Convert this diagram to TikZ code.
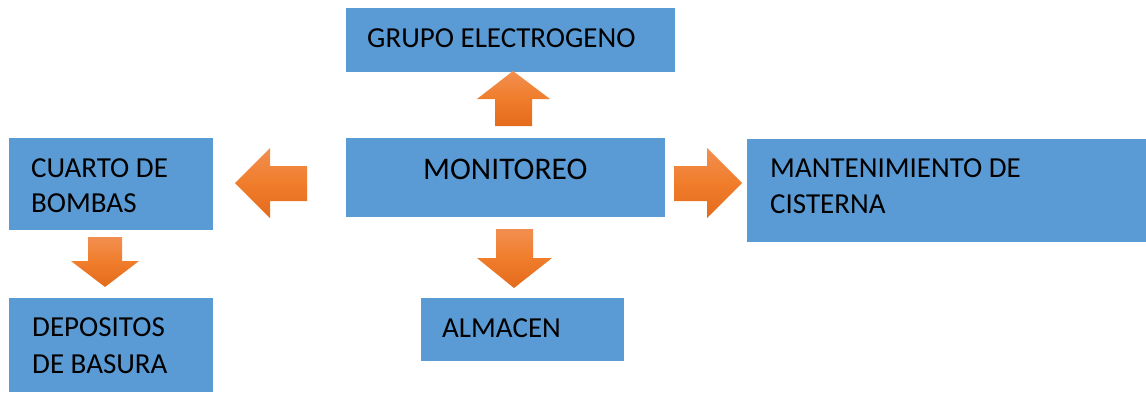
\documentclass[tikz,border=0pt]{standalone}
\usepackage{fontspec}
\setmainfont{Carlito}
\definecolor{boxblue}{HTML}{5B9BD5}
\definecolor{orTop}{HTML}{F28F50}
\definecolor{orMid}{HTML}{F07D2B}
\definecolor{orBot}{HTML}{E36B1C}
\tikzset{
  box/.style={fill=boxblue, draw=none, inner sep=0pt, outer sep=0pt, anchor=north west},
  txt/.style={inner sep=0pt, anchor=base west, text=black, font=\fontsize{29}{35}\selectfont},
  blockarrow/.style={top color=orTop, bottom color=orBot, middle color=orMid, draw=none}
}
\begin{document}
\begin{tikzpicture}[x=1pt,y=-1pt]
\useasboundingbox (0,0) rectangle (1146,392);
% boxes
\node[box, minimum width=329pt, minimum height=64pt] (grupo) at (346,8) {};
\node[box, minimum width=319pt, minimum height=79pt] (monitoreo) at (346,138) {};
\node[box, minimum width=204pt, minimum height=92pt] (cuarto) at (9,138) {};
\node[box, minimum width=399pt, minimum height=103pt] (mant) at (747,139) {};
\node[box, minimum width=203pt, minimum height=63pt] (almacen) at (421,298) {};
\node[box, minimum width=204pt, minimum height=94pt] (depositos) at (9,298) {};
% texts
\node[txt] (grupoT) at (367,47) {GRUPO ELECTROGENO};
\node[txt, font=\fontsize{31.5}{38}\selectfont] (monT) at (423,179.5) {MONITOREO};
\node[txt] (cuartoT1) at (31,177) {CUARTO DE};
\node[txt] (cuartoT2) at (31,212) {BOMBAS};
\node[txt] (mantT1) at (770,177) {MANTENIMIENTO DE};
\node[txt] (mantT2) at (770,213) {CISTERNA};
\node[txt] (almT) at (442,337) {ALMACEN};
\node[txt] (depT1) at (32,336) {DEPOSITOS};
\node[txt] (depT2) at (32,373) {DE BASURA};
% block arrows
\shade[blockarrow] (513,71) -- (550,99) -- (532,99) -- (532,126) -- (495,126) -- (495,99) -- (477,99) -- cycle;
\shade[blockarrow] (235,183) -- (270,148) -- (270,166) -- (307,166) -- (307,201) -- (270,201) -- (270,218) -- cycle;
\shade[blockarrow] (742,183) -- (707,148) -- (707,166) -- (674,166) -- (674,201) -- (707,201) -- (707,218) -- cycle;
\shade[blockarrow] (514,288) -- (552,258) -- (533,258) -- (533,229) -- (496,229) -- (496,258) -- (477,258) -- cycle;
\shade[blockarrow] (105,287) -- (139,261) -- (122,261) -- (122,237) -- (88,237) -- (88,261) -- (71,261) -- cycle;
\end{tikzpicture}
\end{document}
